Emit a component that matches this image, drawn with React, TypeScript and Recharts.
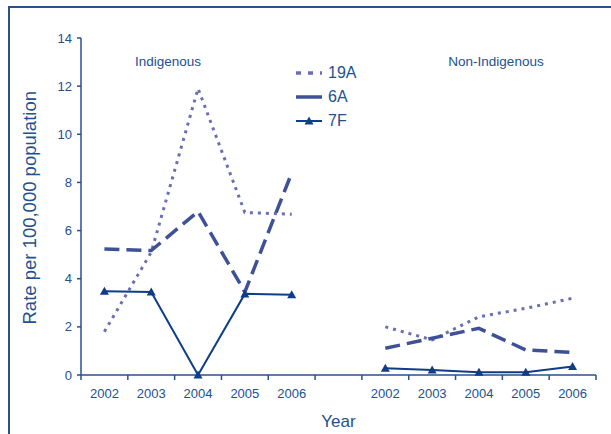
import React from 'react';
import { LineChart, Line, XAxis, YAxis } from 'recharts';

const yearLabels = ['2002', '2003', '2004', '2005', '2006', '', '2002', '2003', '2004', '2005', '2006'];
const groupLabels = ['Indigenous', 'Non-Indigenous'];
const series19A = [1.8, 5.1, 11.9, 6.75, 6.68, null, 2.0, 1.46, 2.42, 2.77, 3.19];
const series6A = [5.23, 5.17, 6.79, 3.45, 8.39, null, 1.11, 1.53, 1.94, 1.04, 0.94];
const series7F = [3.48, 3.45, 0, 3.37, 3.33, null, 0.28, 0.21, 0.11, 0.11, 0.35];
const yTicks = [0, 2, 4, 6, 8, 10, 12, 14];
const xTicks = [0, 1, 2, 3, 4, 5, 6, 7, 8, 9, 10, 11];

const data = yearLabels.map((lab, i) => ({
  x: i + 0.5,
  label: lab,
  s19A: series19A[i],
  s6A: series6A[i],
  s7F: series7F[i],
}));

const TEXT = '#23508e';
const AXIS = '#2a4f8f';
const C19 = '#6a6eb2';
const C6 = '#3e5096';
const C7 = '#0f3d87';
const FONT = '"Liberation Sans", Arial, sans-serif';

const W = 611;
const H = 434;
const M = { top: 38, right: 15, left: 11, bottom: 29 };
const YW = 70;
const PLOT_W = W - M.left - M.right - YW;
const HALF = PLOT_W / (xTicks.length - 1) / 2;

const XTick = (props: any) => {
  const { x, y, payload } = props;
  const lab = yearLabels[payload.value];
  if (!lab) return null;
  return (
    <text x={x + HALF} y={y + 16} textAnchor="middle" fill={TEXT} fontSize={13} fontFamily={FONT}>
      {lab}
    </text>
  );
};

const Triangle = (props: any) => {
  const { cx, cy } = props;
  if (cx == null || cy == null) return null;
  return <path d={`M${cx - 4.5},${cy + 3.5} L${cx},${cy - 4.5} L${cx + 4.5},${cy + 3.5} Z`} fill={C7} />;
};

const legendItems = [
  { name: '19A', color: C19, dash: '5 7', width: 3.5, marker: false },
  { name: '6A', color: C6, dash: undefined, width: 3.5, marker: false },
  { name: '7F', color: C7, dash: undefined, width: 2, marker: true },
];

export default function App() {
  return (
    <div style={{ position: 'absolute', left: 0, top: 0, width: W, height: H, fontFamily: FONT, overflow: 'hidden', background: '#fff' }}>
      <div style={{ position: 'absolute', left: 8, top: 6, width: 700, height: 600, borderLeft: `2px solid ${AXIS}`, borderTop: `2px solid ${AXIS}` }} />
      <LineChart width={W} height={H} data={data} margin={M} style={{ position: 'absolute', left: 0, top: 0 }}>
        <XAxis
          dataKey="x"
          type="number"
          domain={[0, 11]}
          ticks={xTicks}
          interval={0}
          tick={<XTick />}
          tickSize={5}
          height={30}
          axisLine={{ stroke: AXIS, strokeWidth: 1.5 }}
          tickLine={{ stroke: AXIS, strokeWidth: 1.5 }}
          label={{ value: 'Year', position: 'insideBottom', offset: -22, fill: TEXT, fontSize: 17, fontFamily: FONT }}
        />
        <YAxis
          type="number"
          domain={[0, 14]}
          ticks={yTicks}
          interval={0}
          width={YW}
          tickSize={4}
          tickMargin={5}
          tick={{ fill: TEXT, fontSize: 13, fontFamily: FONT }}
          axisLine={{ stroke: AXIS, strokeWidth: 1.5 }}
          tickLine={{ stroke: AXIS, strokeWidth: 1.5 }}
          label={{ value: 'Rate per 100,000 population', angle: -90, position: 'insideLeft', offset: 18, dy: 118, fill: TEXT, fontSize: 18.5, fontFamily: FONT }}
        />
        <Line dataKey="s19A" stroke={C19} strokeWidth={3} strokeDasharray="3 5" dot={false} activeDot={false} isAnimationActive={false} connectNulls={false} />
        <Line dataKey="s6A" stroke={C6} strokeWidth={3.5} strokeDasharray="15 7" dot={false} activeDot={false} isAnimationActive={false} connectNulls={false} />
        <Line dataKey="s7F" stroke={C7} strokeWidth={2} dot={<Triangle />} activeDot={false} isAnimationActive={false} connectNulls={false} />
      </LineChart>
      <div style={{ position: 'absolute', left: 168, top: 61, transform: 'translate(-50%, -50%)', color: TEXT, fontSize: 13.5, whiteSpace: 'nowrap' }}>{groupLabels[0]}</div>
      <div style={{ position: 'absolute', left: 496, top: 61, transform: 'translate(-50%, -50%)', color: TEXT, fontSize: 13.5, whiteSpace: 'nowrap' }}>{groupLabels[1]}</div>
      {legendItems.map((it, i) => (
        <div key={it.name} style={{ position: 'absolute', left: 296, top: 73 + i * 24, transform: 'translateY(-50%)', display: 'flex', alignItems: 'center' }}>
          <svg width={28} height={12}>
            <line x1={0} y1={6} x2={26} y2={6} stroke={it.color} strokeWidth={it.width} strokeDasharray={it.dash} />
            {it.marker && <path d="M8.5,9.5 L13,1.5 L17.5,9.5 Z" fill={C7} />}
          </svg>
          <span style={{ color: TEXT, fontSize: 16, marginLeft: 4 }}>{it.name}</span>
        </div>
      ))}
    </div>
  );
}
